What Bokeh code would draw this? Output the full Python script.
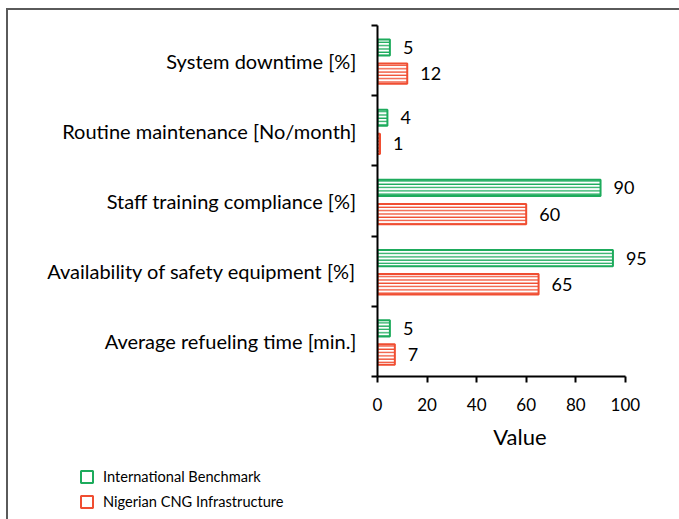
from bokeh.plotting import figure
from bokeh.layouts import column
from bokeh.models import ColumnDataSource, FixedTicker, Legend, LegendItem, Range1d
from bokeh.transform import dodge
from bokeh.core.properties import value
from bokeh.embed import file_html
from bokeh.resources import INLINE

categories = ["System downtime [%]", "Routine maintenance [No/month]",
              "Staff training compliance [%]", "Availability of safety equipment [%]",
              "Average refueling time [min.]"]
international = [5, 4, 90, 95, 5]
nigerian = [12, 1, 60, 65, 7]
series_names = ["International Benchmark", "Nigerian CNG Infrastructure"]
x_ticks = [0, 20, 40, 60, 80, 100]

GREEN = "#1DAB5C"
RED = "#F04E32"
FONT = "Lato"

n = len(categories)
pos = [n - i for i in range(n)]  # top category highest

src = ColumnDataSource(dict(
    y=pos, cat=categories, intl=international, nig=nigerian,
    intl_txt=[str(v) for v in international], nig_txt=[str(v) for v in nigerian],
))

p = figure(width=671, height=455, output_backend="svg", toolbar_location=None,
           x_range=Range1d(0, 115), y_range=Range1d(0.5, n + 0.5),
           min_border_left=369, min_border_top=15, min_border_right=17, min_border_bottom=89)
p.outline_line_color = None
p.xgrid.visible = False
p.ygrid.visible = False
p.background_fill_color = "white"
p.border_fill_color = "white"

hatch = dict(fill_color="white", hatch_pattern="horizontal_line", hatch_scale=3.3, hatch_weight=1.3, line_width=2)
p.hbar(y=dodge("y", 0.186, range=p.y_range), right="intl", left=0, height=0.23, source=src,
       line_color=GREEN, hatch_color=GREEN, **hatch)
p.hbar(y=dodge("y", -0.186, range=p.y_range), right="nig", left=0, height=0.29, source=src,
       line_color=RED, hatch_color=RED, **hatch)

p.text(x="intl", y=dodge("y", 0.186, range=p.y_range), text="intl_txt", source=src, x_offset=13,
       text_align="left", text_baseline="middle", text_font=value(FONT), text_font_size="18px",
       text_color="black")
p.text(x="nig", y=dodge("y", -0.186, range=p.y_range), text="nig_txt", source=src, x_offset=13,
       text_align="left", text_baseline="middle", text_font=value(FONT), text_font_size="18px",
       text_color="black")

# y axis: labels at centers, ticks at boundaries
ya = p.yaxis[0]
ya.ticker = FixedTicker(ticks=pos, minor_ticks=[i + 0.5 for i in range(n + 1)])
ya.major_label_overrides = {pv: c for pv, c in zip(pos, categories)}
ya.major_tick_line_color = None
ya.major_tick_out = 0
ya.major_tick_in = 0
ya.minor_tick_line_color = "black"
ya.minor_tick_line_width = 2
ya.minor_tick_out = 6
ya.minor_tick_in = 0
ya.axis_line_width = 2
ya.axis_line_color = "black"
ya.major_label_standoff = 15
ya.major_label_text_font = FONT
ya.major_label_text_font_size = "20px"
ya.major_label_text_color = "black"

xa = p.xaxis[0]
xa.ticker = FixedTicker(ticks=x_ticks)
xa.bounds = (x_ticks[0], x_ticks[-1])
xa.minor_tick_line_color = None
xa.major_tick_out = 6
xa.major_tick_in = 0
xa.major_tick_line_width = 2
xa.axis_line_width = 2
xa.axis_line_color = "black"
xa.major_label_standoff = 15
xa.major_label_text_font = FONT
xa.major_label_text_font_size = "17px"
xa.major_label_text_color = "black"
xa.axis_label = "Value"
xa.axis_label_text_font = FONT
xa.axis_label_text_font_size = "22px"
xa.axis_label_text_font_style = "normal"
xa.axis_label_standoff = 9
xa.axis_label_text_color = "black"

# legend figure: frame starts where the legend sits
lf = figure(width=671, height=54, output_backend="svg", toolbar_location=None,
            x_range=Range1d(0, 1), y_range=Range1d(0, 1),
            min_border_left=71, min_border_right=0, min_border_top=1, min_border_bottom=0)
lf.frame_align = False
lf.axis.visible = False
lf.grid.visible = False
lf.outline_line_color = None
lg1 = lf.quad(left=[5], right=[6], bottom=[5], top=[6], fill_color="white", line_color=GREEN, line_width=2)
lg2 = lf.quad(left=[5], right=[6], bottom=[5], top=[6], fill_color="white", line_color=RED, line_width=2)
legend = Legend(items=[LegendItem(label=series_names[0], renderers=[lg1]),
                       LegendItem(label=series_names[1], renderers=[lg2])],
                location="top_left", orientation="vertical",
                border_line_color=None, background_fill_alpha=0,
                padding=0, margin=0, spacing=5,
                glyph_width=15, glyph_height=15, label_height=20, label_standoff=9,
                label_text_font=FONT, label_text_font_size="14.6px", label_text_color="black")
lf.add_layout(legend)

layout = column(p, lf, spacing=0,
                styles={"border-top": "2px solid #5a5a5a", "border-left": "2px solid #5a5a5a",
                        "margin-left": "6px", "margin-top": "8px"})

open("out.html", "w").write(file_html(layout, INLINE))
